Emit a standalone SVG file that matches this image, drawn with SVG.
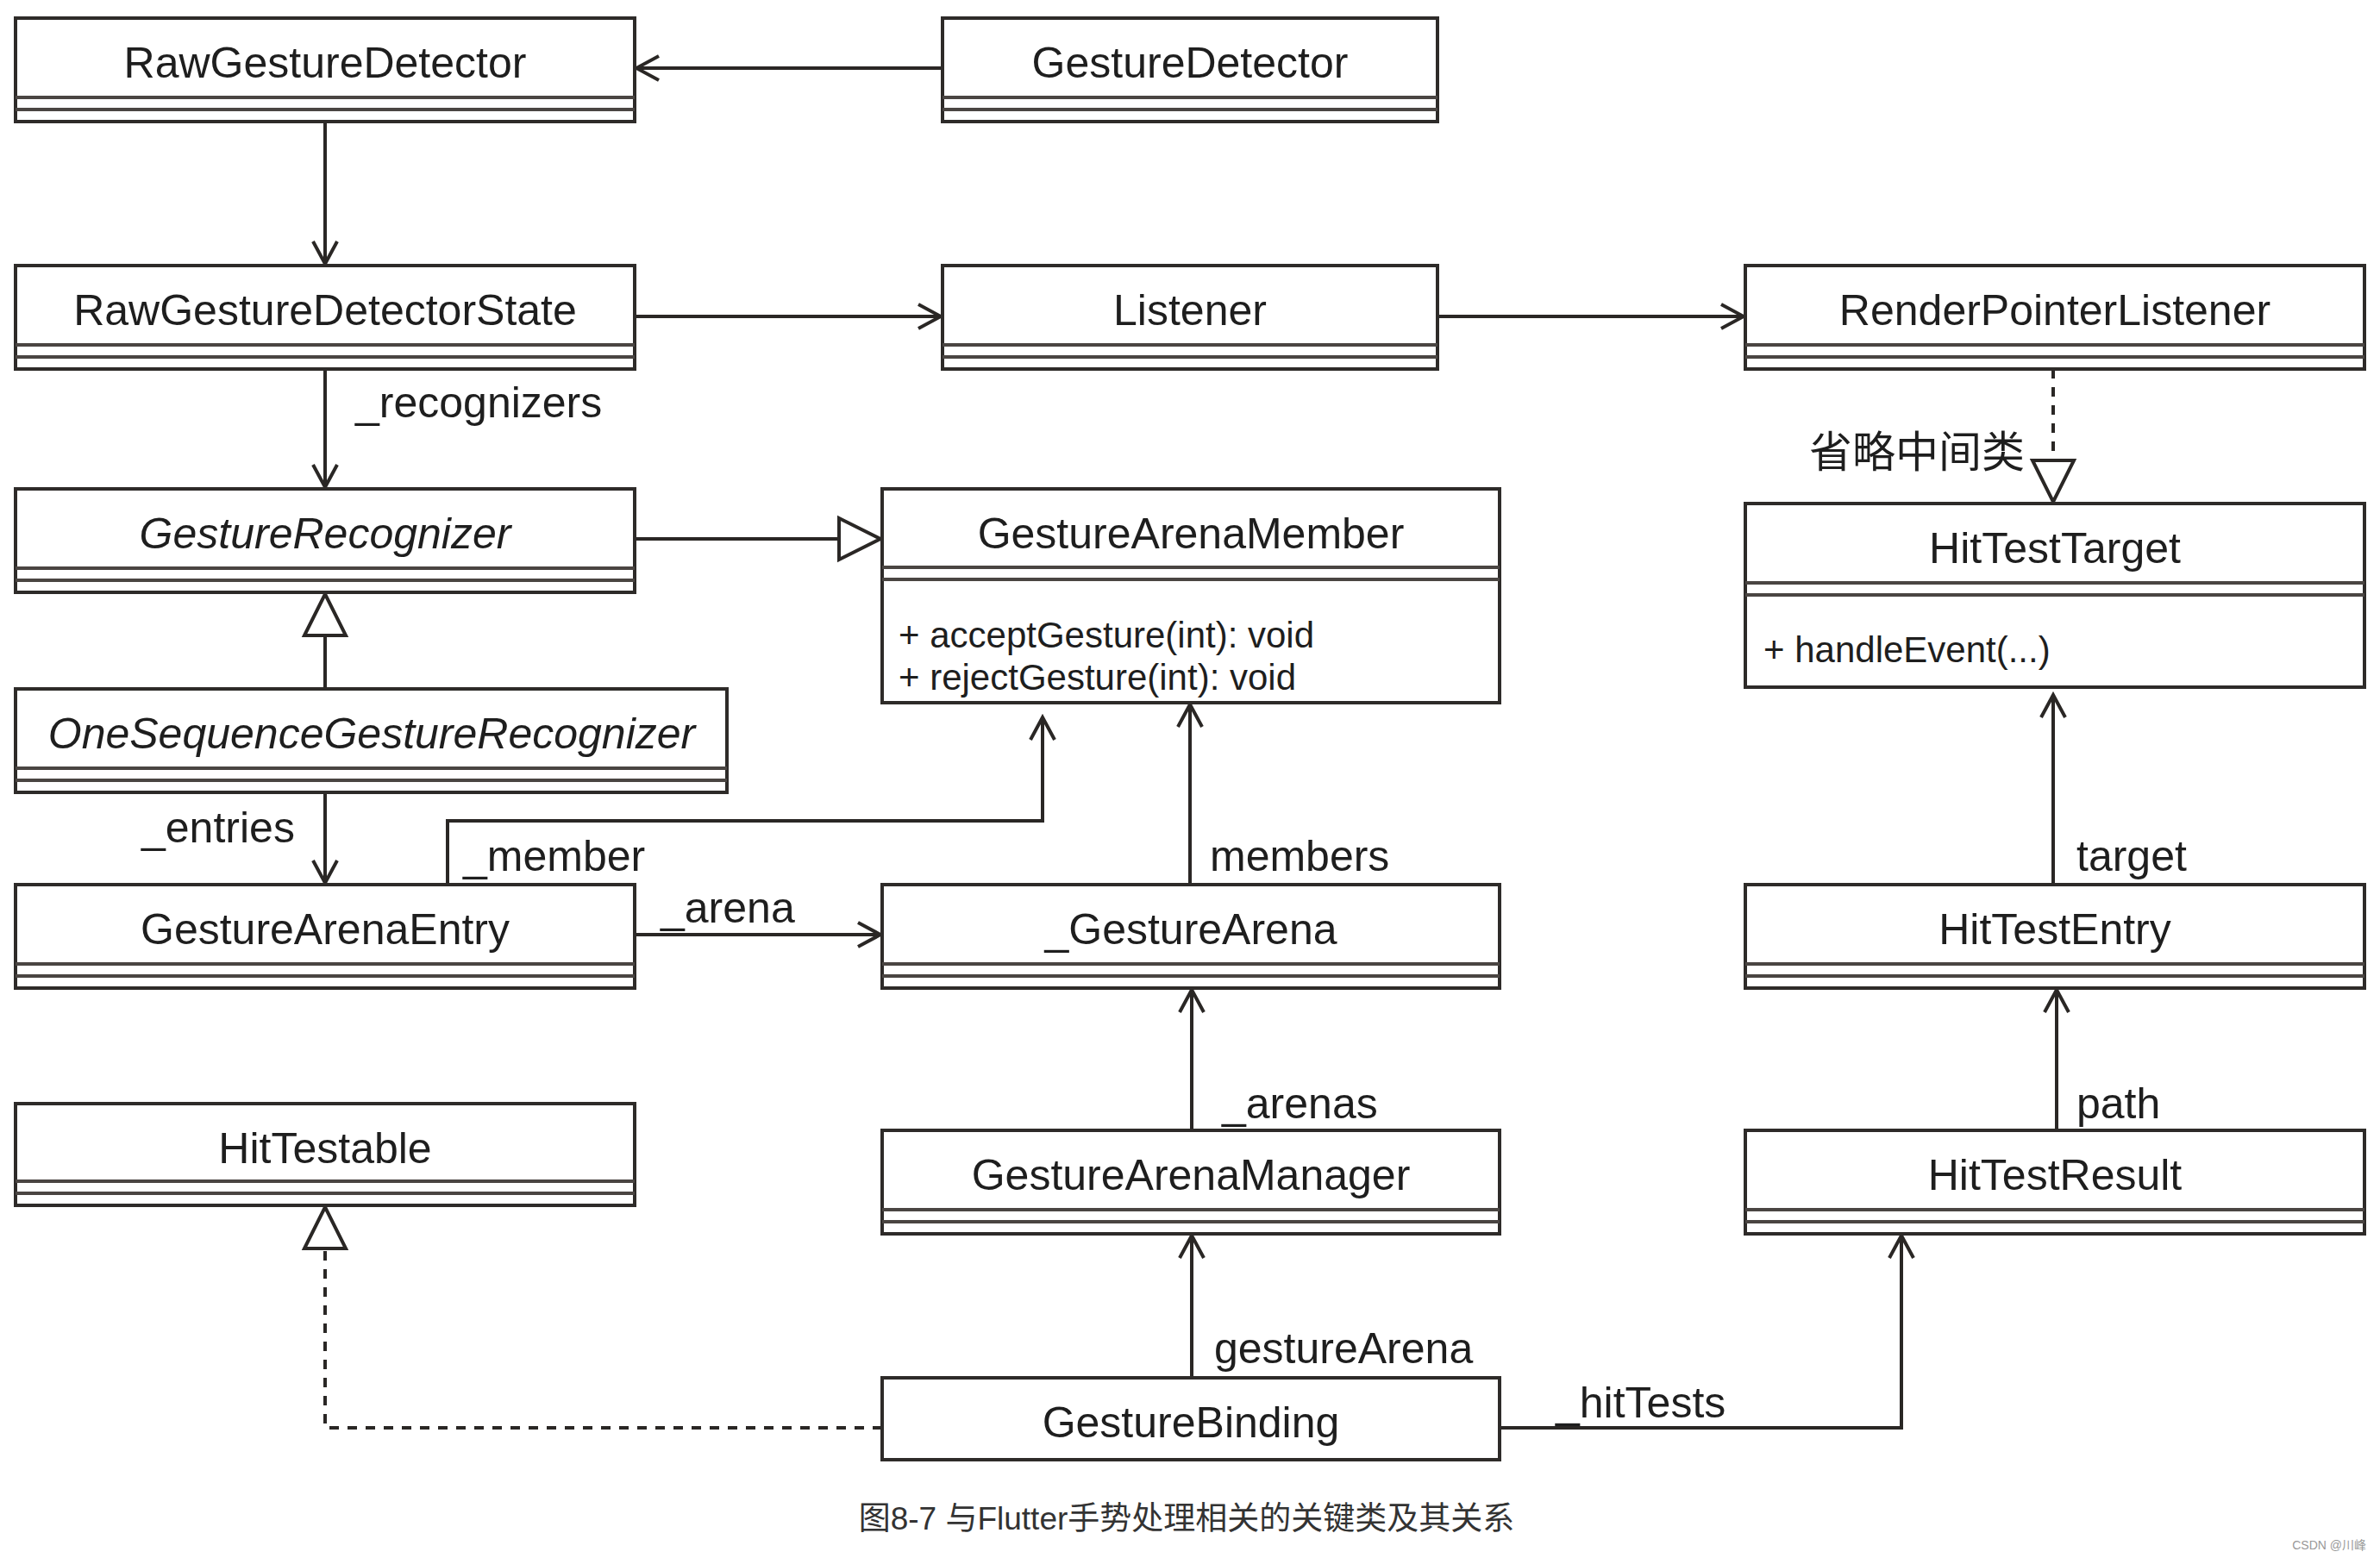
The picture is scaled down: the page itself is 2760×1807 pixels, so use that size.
<svg xmlns="http://www.w3.org/2000/svg" width="2760" height="1807" viewBox="0 0 2760 1807">
<style>
  .box{fill:#fff;stroke:#2e2b29;stroke-width:4}
  .sep{fill:none;stroke:#4a4542;stroke-width:4}
  .t{font-family:"Liberation Sans",Arial,sans-serif;font-size:50px;fill:#1e1e1e;text-anchor:middle}
  .it{font-style:italic}
  .m{font-family:"Liberation Sans",Arial,sans-serif;font-size:42px;fill:#1e1e1e}
  .lbl{font-family:"Liberation Sans",Arial,sans-serif;font-size:50px;fill:#1e1e1e}
  .cj{font-family:"Liberation Sans","Noto Sans CJK SC",sans-serif}
  .c{fill:none;stroke:#2a2725;stroke-width:4}
  .d{stroke-dasharray:11 10}
</style>
<defs>
  <marker id="open" markerUnits="userSpaceOnUse" markerWidth="32" markerHeight="34" refX="28" refY="16" orient="auto">
    <path d="M2,2 L28,16 L2,30" fill="none" stroke="#2a2725" stroke-width="4" stroke-dasharray="none"/>
  </marker>
  <marker id="tri" markerUnits="userSpaceOnUse" markerWidth="56" markerHeight="56" refX="52" refY="28" orient="auto">
    <path d="M4,4 L52,28 L4,52 Z" fill="#fff" stroke="#2a2725" stroke-width="4" stroke-dasharray="none"/>
  </marker>
</defs>
<rect width="2760" height="1807" fill="#fff"/>

<g id="connectors">
  <path class="c" d="M1093,79 H738" marker-end="url(#open)"/>
  <path class="c" d="M377,141 V306" marker-end="url(#open)"/>
  <path class="c" d="M736,367 H1091" marker-end="url(#open)"/>
  <path class="c" d="M1667,367 H2022" marker-end="url(#open)"/>
  <path class="c" d="M377,428 V565" marker-end="url(#open)"/>
  <path class="c" d="M736,625 H1021" marker-end="url(#tri)"/>
  <path class="c" d="M377,799 V689" marker-end="url(#tri)"/>
  <path class="c" d="M377,919 V1024" marker-end="url(#open)"/>
  <path class="c" d="M519,1026 V952 H1209 V832" marker-end="url(#open)"/>
  <path class="c" d="M736,1084 H1021" marker-end="url(#open)"/>
  <path class="c" d="M1380,1026 V817" marker-end="url(#open)"/>
  <path class="c" d="M1382,1311 V1148" marker-end="url(#open)"/>
  <path class="c" d="M1382,1598 V1433" marker-end="url(#open)"/>
  <path class="c d" d="M1023,1656 H377 V1400" marker-end="url(#tri)"/>
  <path class="c" d="M1739,1656 H2205 V1433" marker-end="url(#open)"/>
  <path class="c" d="M2385,1311 V1148" marker-end="url(#open)"/>
  <path class="c" d="M2381,1026 V806" marker-end="url(#open)"/>
  <path class="c d" d="M2381,428 V582" marker-end="url(#tri)"/>
  <text class="lbl" x="412" y="484">_recognizers</text>
  <text class="lbl" x="164" y="977">_entries</text>
  <text class="lbl" x="537" y="1010">_member</text>
  <text class="lbl" x="766" y="1070">_arena</text>
  <text class="lbl" x="1403" y="1010">members</text>
  <text class="lbl" x="2408" y="1010">target</text>
  <text class="lbl" x="1417" y="1297">_arenas</text>
  <text class="lbl" x="2408" y="1297">path</text>
  <text class="lbl" x="1408" y="1581">gestureArena</text>
  <text class="lbl" x="1804" y="1644">_hitTests</text>
  <text class="lbl cj" x="2098" y="542" font-size="48">省略中间类</text>
</g>

<g id="RawGestureDetector">
  <rect class="box" x="18" y="21" width="718" height="120"/>
  <path class="sep" d="M18,113 H736 M18,127 H736"/>
  <text class="t" x="377" y="90">RawGestureDetector</text>
</g>
<g id="GestureDetector">
  <rect class="box" x="1093" y="21" width="574" height="120"/>
  <path class="sep" d="M1093,113 H1667 M1093,127 H1667"/>
  <text class="t" x="1380" y="90">GestureDetector</text>
</g>
<g id="RawGestureDetectorState">
  <rect class="box" x="18" y="308" width="718" height="120"/>
  <path class="sep" d="M18,400 H736 M18,414 H736"/>
  <text class="t" x="377" y="377">RawGestureDetectorState</text>
</g>
<g id="Listener">
  <rect class="box" x="1093" y="308" width="574" height="120"/>
  <path class="sep" d="M1093,400 H1667 M1093,414 H1667"/>
  <text class="t" x="1380" y="377">Listener</text>
</g>
<g id="RenderPointerListener">
  <rect class="box" x="2024" y="308" width="718" height="120"/>
  <path class="sep" d="M2024,400 H2742 M2024,414 H2742"/>
  <text class="t" x="2383" y="377">RenderPointerListener</text>
</g>
<g id="GestureRecognizer">
  <rect class="box" x="18" y="567" width="718" height="120"/>
  <path class="sep" d="M18,659 H736 M18,673 H736"/>
  <text class="t it" x="377" y="636">GestureRecognizer</text>
</g>
<g id="GestureArenaMember">
  <rect class="box" x="1023" y="567" width="716" height="248"/>
  <path class="sep" d="M1023,658 H1739 M1023,672 H1739"/>
  <text class="t" x="1381" y="636">GestureArenaMember</text>
  <text class="m" x="1042" y="751">+ acceptGesture(int): void</text>
  <text class="m" x="1042" y="800">+ rejectGesture(int): void</text>
</g>
<g id="HitTestTarget">
  <rect class="box" x="2024" y="584" width="718" height="213"/>
  <path class="sep" d="M2024,676 H2742 M2024,690 H2742" stroke="#1e1e1e"/>
  <text class="t" x="2383" y="653">HitTestTarget</text>
  <text class="m" x="2045" y="768">+ handleEvent(...)</text>
</g>
<g id="OneSequenceGestureRecognizer">
  <rect class="box" x="18" y="799" width="825" height="120"/>
  <path class="sep" d="M18,891 H843 M18,905 H843"/>
  <text class="t it" x="431" y="868">OneSequenceGestureRecognizer</text>
</g>
<g id="GestureArenaEntry">
  <rect class="box" x="18" y="1026" width="718" height="120"/>
  <path class="sep" d="M18,1118 H736 M18,1132 H736"/>
  <text class="t" x="377" y="1095">GestureArenaEntry</text>
</g>
<g id="_GestureArena">
  <rect class="box" x="1023" y="1026" width="716" height="120"/>
  <path class="sep" d="M1023,1118 H1739 M1023,1132 H1739"/>
  <text class="t" x="1381" y="1095">_GestureArena</text>
</g>
<g id="HitTestEntry">
  <rect class="box" x="2024" y="1026" width="718" height="120"/>
  <path class="sep" d="M2024,1118 H2742 M2024,1132 H2742"/>
  <text class="t" x="2383" y="1095">HitTestEntry</text>
</g>
<g id="HitTestable">
  <rect class="box" x="18" y="1280" width="718" height="118"/>
  <path class="sep" d="M18,1370 H736 M18,1384 H736"/>
  <text class="t" x="377" y="1349">HitTestable</text>
</g>
<g id="GestureArenaManager">
  <rect class="box" x="1023" y="1311" width="716" height="120"/>
  <path class="sep" d="M1023,1403 H1739 M1023,1417 H1739"/>
  <text class="t" x="1381" y="1380">GestureArenaManager</text>
</g>
<g id="HitTestResult">
  <rect class="box" x="2024" y="1311" width="718" height="120"/>
  <path class="sep" d="M2024,1403 H2742 M2024,1417 H2742"/>
  <text class="t" x="2383" y="1380">HitTestResult</text>
</g>
<g id="GestureBinding">
  <rect class="box" x="1023" y="1598" width="716" height="95"/>
  <text class="t" x="1381" y="1667">GestureBinding</text>
</g>

<text x="1376" y="1774" font-family="'Liberation Sans','Noto Sans CJK SC',sans-serif" font-size="37" fill="#333" text-anchor="middle">图8-7 与Flutter手势处理相关的关键类及其关系</text>
<text x="2744" y="1797" font-family="'Liberation Sans','Noto Sans CJK SC',sans-serif" font-size="14" fill="#999" text-anchor="end">CSDN @川峰</text>
</svg>
